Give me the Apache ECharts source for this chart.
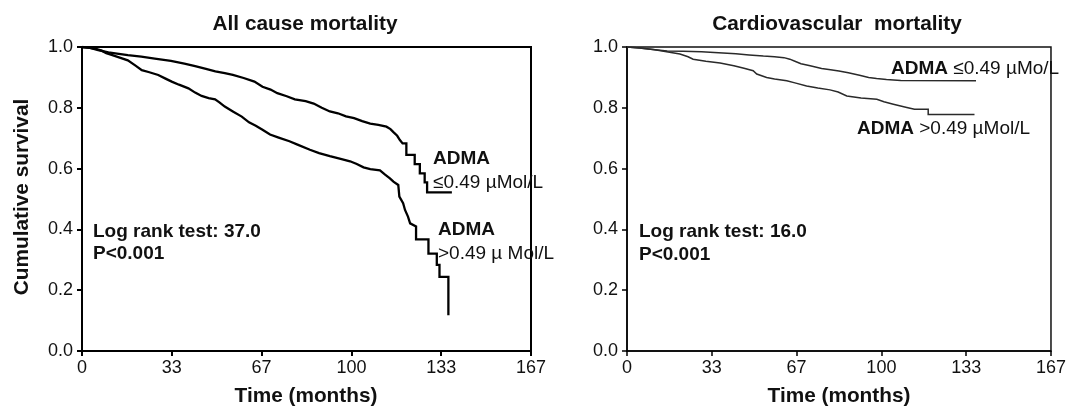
<!DOCTYPE html>
<html>
<head>
<meta charset="utf-8">
<script src="https://cdn.jsdelivr.net/npm/echarts@6/dist/echarts.min.js"></script>
<style>html,body{margin:0;padding:0;background:#fff}#c{width:1069px;height:407px}</style>
</head>
<body>
<div id="c"></div>
<script>
// x-axis ticks (months) and y-axis ticks
const xTickLabels = ['0', '33', '67', '100', '133', '167'];
const yTickLabels = ['0.0', '0.2', '0.4', '0.6', '0.8', '1.0'];

// All cause mortality: [months, cumulative survival] (repeated months = vertical drop)
const allCauseLow = [[0,1],[3,0.997],[6,0.99],[9.8,0.982],[13,0.978],[17,0.973],[22,0.968],[27,0.962],[33,0.954],[38,0.945],[42,0.937],[46,0.928],[49.5,0.92],[53,0.914],[56,0.908],[60,0.898],[64,0.886],[67,0.869],[70,0.86],[72.5,0.848],[76,0.838],[79,0.828],[83,0.822],[86,0.814],[89,0.8],[92,0.788],[95,0.782],[98,0.772],[101,0.766],[104,0.756],[107,0.748],[110,0.744],[113,0.738],[114.5,0.73],[115.6,0.72],[117,0.708],[118,0.694],[119,0.683],[120.4,0.683],[120.4,0.645],[123.5,0.645],[123.5,0.615],[125.4,0.615],[125.4,0.584],[127.2,0.584],[127.2,0.555],[128.1,0.555],[128.1,0.522],[137.3,0.522]];
const allCauseHigh = [[0,1],[3,0.997],[5.5,0.993],[7.3,0.988],[9,0.98],[11,0.974],[14,0.965],[17,0.956],[20,0.938],[22.2,0.924],[25,0.917],[28.3,0.908],[31,0.896],[33.3,0.886],[36,0.876],[39.5,0.864],[42,0.85],[44.4,0.839],[47,0.832],[49.4,0.828],[51,0.818],[53,0.804],[56,0.788],[59.3,0.771],[62,0.752],[64.5,0.741],[67,0.728],[69.8,0.712],[73,0.702],[77,0.69],[80,0.679],[84.6,0.662],[88,0.651],[92,0.641],[96,0.632],[99.5,0.624],[102,0.615],[104.5,0.604],[107,0.598],[110.6,0.594],[112.5,0.58],[114.3,0.568],[115.6,0.557],[117.4,0.546],[117.8,0.508],[119.2,0.486],[119.9,0.464],[121,0.442],[121.8,0.42],[124,0.41],[124,0.367],[128.6,0.367],[128.6,0.32],[131.7,0.32],[131.7,0.283],[132.7,0.283],[132.7,0.244],[136,0.244],[136,0.118]];

// Cardiovascular mortality: [months, cumulative survival]
const cvLow = [[0,1],[5,0.997],[10,0.992],[15.8,0.987],[22,0.986],[29.3,0.984],[36,0.981],[42.8,0.978],[48,0.974],[53.6,0.97],[58,0.968],[61.7,0.965],[64,0.96],[66,0.953],[68.4,0.945],[72,0.938],[76.5,0.929],[80,0.925],[83.3,0.921],[87,0.915],[91.4,0.907],[95,0.9],[98.1,0.896],[102,0.893],[107.6,0.89],[137.2,0.889]];
const cvHigh = [[0,1],[5,0.997],[10.4,0.992],[15,0.985],[20.8,0.977],[24,0.968],[26,0.96],[31,0.953],[36.6,0.947],[42,0.938],[46,0.93],[49.6,0.922],[51,0.911],[54.9,0.9],[58,0.895],[62.8,0.889],[66,0.882],[70.6,0.872],[75,0.865],[79.8,0.859],[83,0.852],[86.4,0.839],[92,0.832],[98.2,0.828],[101,0.82],[104.7,0.812],[110,0.801],[113,0.795],[118.4,0.795],[118.4,0.778],[136.6,0.778]];

const FONT = '"Liberation Sans", Arial, Helvetica, sans-serif';
const xMax = 500 / 3, xInt = 100 / 3;

function xAxisDef(gi, w) {
  return {
    type: 'value', gridIndex: gi, min: 0, max: xMax, interval: xInt,
    axisLine: {show: true, lineStyle: {color: '#000', width: w}},
    axisTick: {show: true, inside: false, length: 5, lineStyle: {color: '#000', width: w}},
    splitLine: {show: false},
    axisLabel: {
      margin: 8, color: '#111', fontSize: 18, fontFamily: FONT, showMaxLabel: true, showMinLabel: true,
      formatter: v => xTickLabels[Math.round(v / xInt)]
    }
  };
}
function yAxisDef(gi, w) {
  return {
    type: 'value', gridIndex: gi, min: 0, max: 1, interval: 0.2,
    axisLine: {show: true, lineStyle: {color: '#000', width: w}},
    axisTick: {show: true, inside: false, length: 5, lineStyle: {color: '#000', width: w}},
    splitLine: {show: false},
    axisLabel: {
      margin: 9, color: '#111', fontSize: 18, fontFamily: FONT,
      formatter: v => yTickLabels[Math.round(v / 0.2)]
    }
  };
}
function km(data, gi, color, width) {
  return {
    type: 'line', xAxisIndex: gi, yAxisIndex: gi, data: data,
    showSymbol: false, symbol: 'none', silent: true, animation: false,
    lineStyle: {color: color, width: width, join: 'miter'}
  };
}
function t(x, y, text, opts) {
  return {
    type: 'text', x: x, y: y, silent: true,
    rotation: (opts && opts.rotation) || 0,
    style: Object.assign({
      text: text, fill: '#111', fontFamily: FONT, fontSize: 19,
      align: 'left', verticalAlign: 'middle',
      rich: {b: {fontWeight: 'bold', fontSize: 19, fontFamily: FONT, fill: '#111'}}
    }, opts && opts.style)
  };
}

const chart = echarts.init(document.getElementById('c'), null, {renderer: 'canvas'});
chart.setOption({
  animation: false,
  backgroundColor: '#fff',
  grid: [
    {left: 82, top: 47, width: 449, height: 304, show: true, borderColor: '#000', borderWidth: 2, backgroundColor: 'transparent'},
    {left: 627, top: 47, width: 424, height: 304, show: true, borderColor: '#111', borderWidth: 1.5, backgroundColor: 'transparent'}
  ],
  xAxis: [xAxisDef(0, 2), xAxisDef(1, 1.5)],
  yAxis: [yAxisDef(0, 2), yAxisDef(1, 1.5)],
  series: [
    km(allCauseLow, 0, '#000', 2.3),
    km(allCauseHigh, 0, '#000', 2.3),
    km(cvLow, 1, '#2a2a2a', 1.5),
    km(cvHigh, 1, '#2a2a2a', 1.5)
  ],
  graphic: [
    t(305, 24, 'All cause mortality', {style: {align: 'center', fontWeight: 'bold', fontSize: 20.8}}),
    t(837, 24, 'Cardiovascular  mortality', {style: {align: 'center', fontWeight: 'bold', fontSize: 20.8}}),
    t(22, 197, 'Cumulative survival', {rotation: Math.PI / 2, style: {align: 'center', fontWeight: 'bold', fontSize: 20.8}}),
    t(306, 396, 'Time (months)', {style: {align: 'center', fontWeight: 'bold', fontSize: 20.8}}),
    t(839, 396, 'Time (months)', {style: {align: 'center', fontWeight: 'bold', fontSize: 20.8}}),
    t(93, 232, 'Log rank test: 37.0', {style: {fontWeight: 'bold'}}),
    t(93, 254, 'P<0.001', {style: {fontWeight: 'bold'}}),
    t(433, 159, '{b|ADMA}'),
    t(433, 183, '\u22640.49 \u00b5Mol/L'),
    t(438, 230, '{b|ADMA}'),
    t(438, 254, '>0.49 \u00b5 Mol/L'),
    t(639, 232, 'Log rank test: 16.0', {style: {fontWeight: 'bold'}}),
    t(639, 255, 'P<0.001', {style: {fontWeight: 'bold'}}),
    t(891, 69, '{b|ADMA} \u22640.49 \u00b5Mo/L'),
    t(857, 129, '{b|ADMA} >0.49 \u00b5Mol/L')
  ]
});
</script>
</body>
</html>
